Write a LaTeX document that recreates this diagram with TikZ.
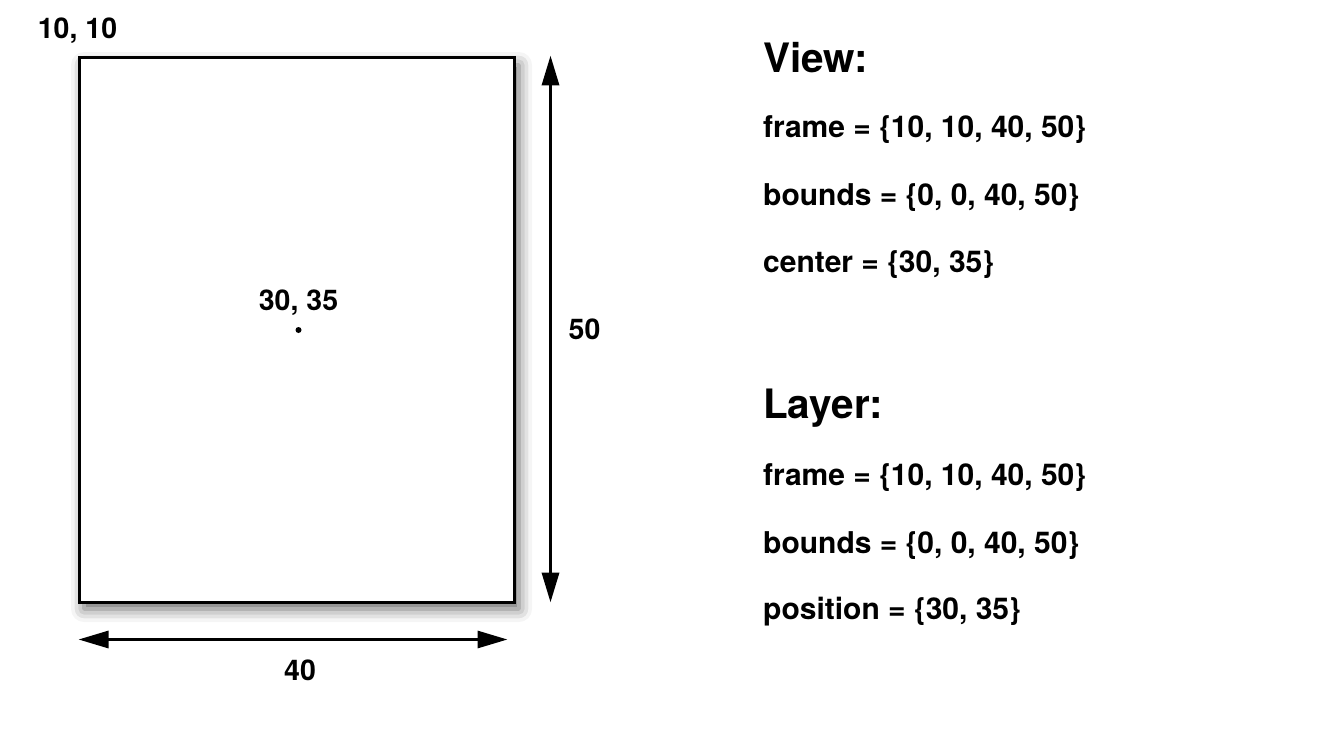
\documentclass[tikz,border=0pt]{standalone}
\usepackage{fontspec}
\setmainfont{TeX Gyre Heros}
\usetikzlibrary{arrows.meta,positioning,shadows.blur}

\begin{document}
\begin{tikzpicture}[
		x=1pt, y=-1pt,
		lbl/.style={font=\fontsize{28.5}{32}\selectfont\bfseries, inner sep=0pt},
		heading/.style={font=\fontsize{40.5}{46}\selectfont\bfseries, inner sep=0pt, anchor=west},
		prop/.style={font=\fontsize{30}{34}\selectfont\bfseries, inner sep=0pt, anchor=west},
		dim/.style={line width=3.5pt, {Triangle[length=30pt,width=17pt]}-{Triangle[length=30pt,width=17pt]}},
	]
		\useasboundingbox (0,0) rectangle (1319,738);

		% the view rectangle
		\node[draw, line width=3pt, fill=white, minimum width=435pt, minimum height=544pt, inner sep=0pt,
			blur shadow={shadow xshift=5pt, shadow yshift=-7pt, shadow blur radius=13pt, shadow opacity=60}] (view) at (296.5,330) {};
		\node[lbl] (origin) at ([yshift=26pt]view.north west) {10, 10};
		\node[circle, fill, inner sep=0pt, minimum size=6pt] (mid) at ([xshift=2pt]view.center) {};
		\node[lbl] (midlbl) at ([yshift=27pt]mid) {30, 35};

		% dimensions
		\coordinate (htop) at ([xshift=35pt,yshift=1pt]view.north east);
		\coordinate (hbot) at ([xshift=35pt,yshift=1pt]view.south east);
		\draw[dim] (htop) -- (hbot);
		\node[lbl, right=18pt of $(htop)!0.5!(hbot)$, anchor=west] (height) {50};

		\coordinate (wleft) at ([xshift=1pt,yshift=-36pt]view.south west);
		\coordinate (wright) at ([xshift=-8pt,yshift=-36pt]view.south east);
		\draw[dim, line width=3pt] (wleft) -- (wright);
		\node[lbl] (width) at ([xshift=7pt,yshift=-31pt]$(wleft)!0.5!(wright)$) {40};

		% properties
		\node[heading] (viewhd) at (763,58) {View:};
		\node[prop] (vframe) at (763,130) {frame = \{10, 10, 40, 50\}};
		\node[prop] (vbounds) at (763,198) {bounds = \{0, 0, 40, 50\}};
		\node[prop] (vcenter) at (763,265) {center = \{30, 35\}};

		\node[heading] (layerhd) at (763,408) {Layer:};
		\node[prop] (lframe) at (763,478) {frame = \{10, 10, 40, 50\}};
		\node[prop] (lbounds) at (763,546) {bounds = \{0, 0, 40, 50\}};
		\node[prop] (lpos) at (763,612) {position = \{30, 35\}};
	\end{tikzpicture}
\end{document}
